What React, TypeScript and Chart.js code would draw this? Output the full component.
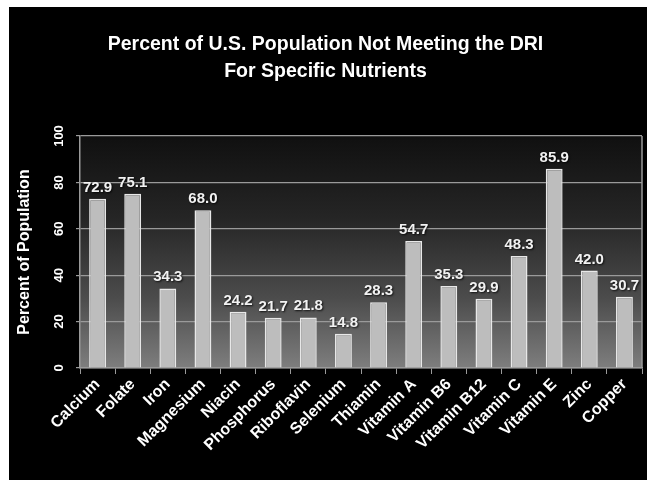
import React, { useEffect, useRef } from "react";
import { Chart, registerables } from "chart.js";

Chart.register(...registerables);

const categories = [
  "Calcium", "Folate", "Iron", "Magnesium", "Niacin", "Phosphorus", "Riboflavin", "Selenium",
  "Thiamin", "Vitamin A", "Vitamin B6", "Vitamin B12", "Vitamin C", "Vitamin E", "Zinc", "Copper",
];
const percentNotMeeting = [72.9, 75.1, 34.3, 68.0, 24.2, 21.7, 21.8, 14.8, 28.3, 54.7, 35.3, 29.9, 48.3, 85.9, 42.0, 30.7];
const titleLines = ["Percent of U.S. Population Not Meeting the DRI", "For Specific Nutrients"];
const yAxisTitle = "Percent of Population";
const yMin = 0;
const yMax = 100;
const yStep = 20;

const FONT = "'Liberation Sans', Arial, Helvetica, sans-serif";

const backgroundPlugin = {
  id: "slideBackground",
  beforeDraw(chart: any) {
    const { ctx, width, height, chartArea } = chart;
    ctx.save();
    ctx.fillStyle = "#ffffff";
    ctx.fillRect(0, 0, width, height);
    ctx.fillStyle = "#000000";
    ctx.fillRect(9, 7, width - 9, height - 7);
    const g = ctx.createLinearGradient(0, chartArea.top, 0, chartArea.bottom);
    g.addColorStop(0, "#101010");
    g.addColorStop(0.35, "#252525");
    g.addColorStop(0.7, "#4c4c4c");
    g.addColorStop(1, "#7e7e7e");
    ctx.fillStyle = g;
    ctx.fillRect(chartArea.left, chartArea.top, chartArea.right - chartArea.left, chartArea.bottom - chartArea.top);
    ctx.restore();
  },
  afterDraw(chart: any) {
    const { ctx, chartArea } = chart;
    ctx.save();
    ctx.strokeStyle = "#9a9a9a";
    ctx.lineWidth = 1.5;
    ctx.beginPath();
    ctx.moveTo(chartArea.right, chartArea.top);
    ctx.lineTo(chartArea.right, chartArea.bottom);
    ctx.stroke();
    ctx.restore();
  },
};

const valueLabelPlugin = {
  id: "valueLabels",
  afterDatasetsDraw(chart: any) {
    const { ctx } = chart;
    const meta = chart.getDatasetMeta(0);
    const data = chart.data.datasets[0].data as number[];
    ctx.save();
    ctx.font = `bold 15px ${FONT}`;
    ctx.textAlign = "center";
    ctx.textBaseline = "alphabetic";
    ctx.shadowColor = "rgba(0,0,0,0.8)";
    ctx.shadowOffsetX = 1;
    ctx.shadowOffsetY = 1;
    ctx.shadowBlur = 2;
    ctx.fillStyle = "#f2f2f2";
    meta.data.forEach((bar: any, i: number) => {
      ctx.fillText(data[i].toFixed(1), bar.x, bar.y - 7);
    });
    ctx.restore();
  },
};

export default function App() {
  const ref = useRef<HTMLCanvasElement | null>(null);
  useEffect(() => {
    if (!ref.current) return;
    const chart = new Chart(ref.current, {
      type: "bar",
      data: {
        labels: categories,
        datasets: [
          {
            data: percentNotMeeting,
            backgroundColor: "#bdbdbd",
            borderColor: "#e8e8e8",
            borderWidth: 1.5,
            barPercentage: 0.48,
            categoryPercentage: 1,
          },
        ],
      },
      options: {
        animation: false,
        responsive: false,
        maintainAspectRatio: false,
        layout: { padding: { left: 9, top: 7, right: 5, bottom: 0 } },
        plugins: {
          legend: { display: false },
          tooltip: { enabled: false },
          title: {
            display: true,
            text: titleLines,
            color: "#ffffff",
            font: { family: FONT, size: 19.5, weight: "bold", lineHeight: "27px" },
            padding: { top: 24.5, bottom: 50.5 },
          },
        },
        scales: {
          x: {
            grid: {
              display: true,
              drawOnChartArea: false,
              drawTicks: true,
              tickLength: 6,
              color: "#9a9a9a",
              lineWidth: 1,
            },
            border: { display: true, color: "#9a9a9a", width: 1.5 },
            ticks: {
              color: "#ffffff",
              font: { family: FONT, size: 16, weight: "bold" },
              minRotation: 45,
              maxRotation: 45,
              padding: 1,
            },
            afterFit(scale: any) {
              scale.height = 112;
            },
          },
          y: {
            min: yMin,
            max: yMax,
            grid: {
              color: "#9a9a9a",
              lineWidth: 1.2,
              tickLength: 4,
            },
            border: { display: true, color: "#9a9a9a", width: 1.5 },
            ticks: {
              stepSize: yStep,
              color: "#ffffff",
              font: { family: FONT, size: 13, weight: "bold" },
              minRotation: 90,
              maxRotation: 90,
              crossAlign: "center",
              padding: 6,
            },
            title: {
              display: true,
              text: yAxisTitle,
              color: "#ffffff",
              font: { family: FONT, size: 16, weight: "bold" },
              padding: { top: 6, bottom: 0 },
            },
            afterFit(scale: any) {
              scale.width = 71;
            },
          },
        },
      },
      plugins: [backgroundPlugin, valueLabelPlugin],
    });
    return () => chart.destroy();
  }, []);
  return (
    <div style={{ position: "fixed", left: 0, top: 0, width: 647, height: 480, background: "#000" }}>
      <canvas ref={ref} width={647} height={480} style={{ display: "block", width: 647, height: 480 }} />
    </div>
  );
}
